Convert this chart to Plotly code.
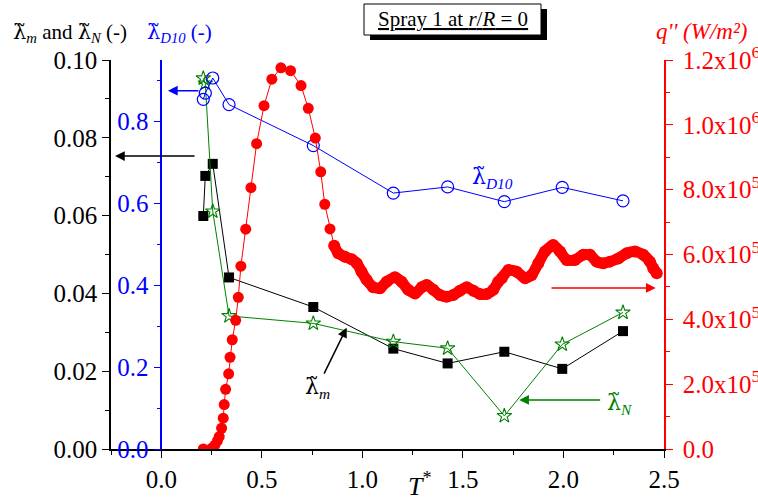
import plotly.graph_objects as go

# Dimensionless time T* shared by the three lambda series
t_star = [0.209, 0.219, 0.256, 0.337, 0.756, 1.154, 1.424, 1.706, 1.994, 2.296]
lam_m = [0.0599, 0.0702, 0.0733, 0.0441, 0.0365, 0.0258, 0.0220, 0.0250, 0.0206, 0.0303]
lam_n = [0.0953, 0.0940, 0.0611, 0.0342, 0.0323, 0.0276, 0.0259, 0.0085, 0.0269, 0.0351]
lam_d10 = [0.854, 0.869, 0.906, 0.841, 0.741, 0.625, 0.640, 0.604, 0.639, 0.606]

# Heat flux q'' (W/m^2) versus T*
q_t = [0.209, 0.252, 0.267, 0.279, 0.288, 0.300, 0.308, 0.313, 0.320, 0.335,
       0.342, 0.353, 0.370, 0.383, 0.396, 0.420, 0.446, 0.474, 0.511, 0.550,
       0.595, 0.643, 0.695, 0.731, 0.766, 0.793, 0.813, 0.839, 0.860, 0.880,
       0.913, 0.947, 0.972, 0.996, 1.021, 1.054, 1.088, 1.121, 1.162, 1.195,
       1.228, 1.262, 1.295, 1.320, 1.353, 1.386, 1.419, 1.452, 1.485, 1.519,
       1.552, 1.585, 1.618, 1.651, 1.676, 1.693, 1.726, 1.767, 1.809, 1.842,
       1.875, 1.908, 1.949, 1.983, 2.016, 2.057, 2.099, 2.132, 2.165, 2.198,
       2.231, 2.273, 2.315, 2.356, 2.397, 2.430, 2.447, 2.464]
q_kw = [0, 3, 12, 25, 38, 64, 95, 137, 184, 232,
        283, 337, 397, 468, 564, 678, 806, 942, 1059, 1141,
        1176, 1167, 1121, 1051, 959, 855, 755, 679, 627, 604,
        593, 585, 573, 547, 522, 499, 496, 516, 530, 516,
        491, 480, 499, 506, 491, 475, 470, 475, 488, 499,
        488, 478, 478, 491, 516, 527, 552, 547, 527, 537,
        573, 609, 629, 609, 583, 583, 599, 599, 578, 573,
        578, 588, 604, 609, 599, 578, 557, 542]
q_flux = [v * 1000 for v in q_kw]

# Beyond this T* the recorded samples are so dense they merge into a band
DENSE_FROM = 0.86

x_ticks = [0.0, 0.5, 1.0, 1.5, 2.0, 2.5]
x_ticktext = ["0.0", "0.5", "1.0", "1.5", "2.0", "2.5"]
q_ticks = [0, 2e5, 4e5, 6e5, 8e5, 1e6, 1.2e6]
q_ticktext = ["0.0", "2.0x10<sup>5</sup>", "4.0x10<sup>5</sup>", "6.0x10<sup>5</sup>",
              "8.0x10<sup>5</sup>", "1.0x10<sup>6</sup>", "1.2x10<sup>6</sup>"]

FONT = "Times New Roman, Liberation Serif, DejaVu Serif, serif"
GREEN = "#008000"
BLUE = "#0000FF"
RED = "#FF0000"

def f(size, color):
    return dict(family=FONT, size=size, color=color)

fig = go.Figure()
fig.add_trace(go.Scatter(
    x=t_star, y=lam_d10, mode="lines+markers", yaxis="y2",
    line=dict(color=BLUE, width=1),
    marker=dict(symbol="circle-open", size=12, color=BLUE, line=dict(width=1.2))))
fig.add_trace(go.Scatter(
    x=t_star, y=lam_m, mode="lines+markers", yaxis="y",
    line=dict(color="black", width=1),
    marker=dict(symbol="square", size=10, color="black")))
fig.add_trace(go.Scatter(
    x=t_star, y=lam_n, mode="lines+markers", yaxis="y",
    line=dict(color=GREEN, width=1),
    marker=dict(symbol="star-open", size=11, color=GREEN, line=dict(width=1.1))))

sparse_idx = [i for i, t in enumerate(q_t) if t <= DENSE_FROM]
dense_idx = [i for i, t in enumerate(q_t) if t >= DENSE_FROM]
fig.add_trace(go.Scatter(
    x=[q_t[i] for i in sparse_idx], y=[q_flux[i] for i in sparse_idx],
    mode="lines+markers", yaxis="y3",
    line=dict(color=RED, width=1),
    marker=dict(symbol="circle", size=11, color=RED)))
fig.add_trace(go.Scatter(
    x=[q_t[i] for i in dense_idx], y=[q_flux[i] for i in dense_idx],
    mode="lines+markers", yaxis="y3",
    line=dict(color=RED, width=11, shape="spline", smoothing=0.6),
    marker=dict(symbol="circle", size=12, color=RED)))

common_tick = dict(ticks="outside", ticklen=7, tickwidth=1.2, showgrid=False,
                   zeroline=False, showline=True, linewidth=1.5, automargin=False)

fig.update_layout(
    width=758, height=498,
    margin=dict(l=111, r=94, t=60, b=49, autoexpand=False),
    paper_bgcolor="white", plot_bgcolor="white",
    showlegend=False,
    font=f(24, "black"),
    xaxis=dict(
        range=[-0.25, 2.5], tickvals=x_ticks, ticktext=x_ticktext,
        linecolor="black", tickcolor="black", tickfont=f(25, "black"),
        minor=dict(dtick=0.25, tick0=0, ticks="outside", ticklen=4, tickcolor="black"),
        **common_tick),
    yaxis=dict(
        range=[0, 0.1], dtick=0.02, tick0=0, tickformat=".2f",
        linecolor="black", tickcolor="black", tickfont=f(25, "black"),
        minor=dict(dtick=0.01, tick0=0, ticks="outside", ticklen=4, tickcolor="black"),
        **common_tick),
    yaxis2=dict(
        overlaying="y", anchor="free", position=0.091, side="left",
        range=[0, 0.95], dtick=0.2, tick0=0, tickformat=".1f",
        linecolor=BLUE, tickcolor=BLUE, tickfont=f(25, BLUE),
        minor=dict(dtick=0.1, tick0=0, ticks="outside", ticklen=4, tickcolor=BLUE),
        **common_tick),
    yaxis3=dict(
        overlaying="y", anchor="x", side="right",
        range=[0, 1.2e6], tickvals=q_ticks, ticktext=q_ticktext,
        ticklabelstandoff=5,
        linecolor=RED, tickcolor=RED, tickfont=f(25, RED),
        minor=dict(dtick=1e5, tick0=0, ticks="outside", ticklen=4, tickcolor=RED),
        **common_tick),
)

def px_x(px):
    return (px - 111) / 553.0

def px_y(py):
    return (449 - py) / 389.0

# Title box with drop shadow
fig.add_shape(type="rect", xref="paper", yref="paper",
              x0=px_x(370), x1=px_x(547), y0=px_y(40), y1=px_y(9),
              fillcolor="black", line=dict(width=0), layer="above")
fig.add_shape(type="rect", xref="paper", yref="paper",
              x0=px_x(364), x1=px_x(541), y0=px_y(35), y1=px_y(4),
              fillcolor="white", line=dict(color="black", width=1), layer="above")

# lambda with a tilde over it (DejaVu carries the combining tilde)
LAM = "<span style='font-family:DejaVu Serif'>λ\u0303</span>"

annots = [
    dict(text="<u>Spray 1 at <i>r</i>/<i>R</i> = 0</u>", xref="paper", yref="paper",
         x=px_x(452.5), y=px_y(19.5), xanchor="center", yanchor="middle",
         font=f(21, "black")),
    dict(text=LAM + "<sub><i>m</i></sub> and " + LAM + "<sub><i>N</i></sub> (-)",
         xref="paper", yref="paper",
         x=px_x(11), y=px_y(33), xanchor="left", yanchor="middle",
         font=f(21, "black")),
    dict(text=LAM + "<sub><i>D10</i></sub> (-)", xref="paper", yref="paper",
         x=px_x(145), y=px_y(33), xanchor="left", yanchor="middle",
         font=f(21, BLUE)),
    dict(text="<i>q'' (W/m²)</i>", xref="paper", yref="paper",
         x=px_x(654), y=px_y(31), xanchor="left", yanchor="middle",
         font=f(23, RED)),
    dict(text="<i>T</i><sup>*</sup>", xref="paper", yref="paper",
         x=px_x(420), y=px_y(484), xanchor="center", yanchor="middle",
         font=f(26, "black")),
    dict(text=LAM + "<sub><i>m</i></sub>", xref="x", yref="y", x=0.779, y=0.0157,
         xanchor="center", yanchor="middle", font=f(22, "black")),
    dict(text=LAM + "<sub><i>N</i></sub>", xref="x", yref="y", x=2.281, y=0.0116,
         xanchor="center", yanchor="middle", font=f(22, GREEN)),
    dict(text=LAM + "<sub><i>D10</i></sub>", xref="x", yref="y2", x=1.649, y=0.662,
         xanchor="center", yanchor="middle", font=f(22, BLUE)),
]
for a in annots:
    a["showarrow"] = False
    fig.add_annotation(**a)

# Arrows pointing to the axis each series belongs to
arrows = [
    dict(xref="x", yref="y", x=-0.230, y=0.0753, ax=0.173, ay=0.0753, color="black"),
    dict(xref="x", yref="y2", x=0.033, y=0.875, ax=0.192, ay=0.875, color=BLUE),
    dict(xref="x", yref="y3", x=2.459, y=497000, ax=1.933, ay=497000, color=RED),
    dict(xref="x", yref="y", x=1.78, y=0.0126, ax=2.19, ay=0.0126, color=GREEN),
    dict(xref="x", yref="y", x=0.922, y=0.0312, ax=0.806, ay=0.0190, color="black"),
]
for a in arrows:
    fig.add_annotation(
        xref=a["xref"], yref=a["yref"], axref="x", ayref=a["yref"],
        x=a["x"], y=a["y"], ax=a["ax"], ay=a["ay"], text="",
        showarrow=True, arrowhead=2, arrowsize=1.3, arrowwidth=1.5,
        arrowcolor=a["color"])

fig.write_html("out.html")
